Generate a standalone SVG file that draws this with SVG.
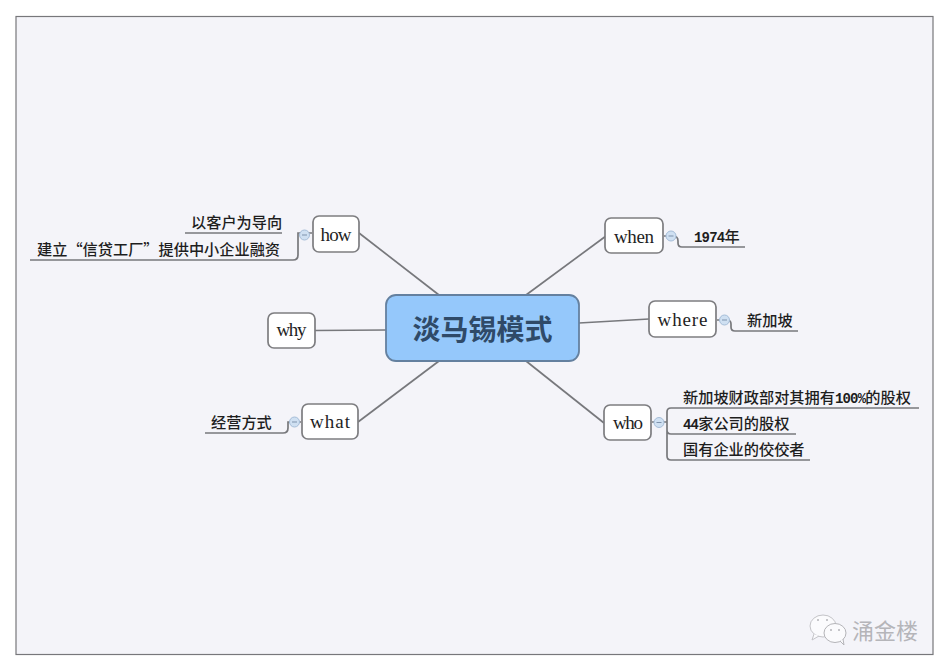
<svg xmlns="http://www.w3.org/2000/svg" width="950" height="671" viewBox="0 0 950 671">
<style>
.node rect{fill:#fff;stroke:#7d7d80;stroke-width:1.7}
.node text{font-family:"Liberation Serif",serif;font-size:19px;fill:#1f1f1f;text-anchor:middle}
.conn path{fill:none;stroke:#77787c;stroke-width:1.7}
.col{fill:#cfe0f2;stroke:#a5bdd8;stroke-width:1}
.dash{stroke:#7f93ad;stroke-width:1}
.leaf text{font-family:"Noto Sans CJK SC","Liberation Sans",sans-serif;font-size:15.2px;font-weight:500;fill:#1e1e1e}
.leaf tspan{font-family:"Liberation Mono","Noto Sans CJK SC",monospace;font-size:14px;font-weight:700;letter-spacing:-0.8px}
.eye{fill:#b5b5b9}
</style>
<rect x="0" y="0" width="950" height="671" fill="#ffffff"/>
<rect x="16" y="16.500" width="917" height="638" fill="#f4f4f9" stroke="#77777b" stroke-width="1.200"/>
<g id="connectors" class="conn">
<path d="M439 295L359 233"/>
<path d="M526 295L606 236"/>
<path d="M579 323L649 319"/>
<path d="M386 330L315 330.500"/>
<path d="M439 361L358 422"/>
<path d="M526 361L604 423"/>
<path d="M282 233H185M312 233H298V255Q298 260 293 260H30"/>
<path d="M664 236H673Q678 236 678 241V243Q678 247 682 247H745"/>
<path d="M717 320H727Q731 320 731 324V327Q731 331 735 331H798"/>
<path d="M301 422H288V428Q288 433 283 433H205"/>
<path d="M652 422H667V412Q667 408 671 408H919M667 422V430Q667 434 671 434H796M667 430V456Q667 460 671 460H810"/>
</g>
<g id="collapse-markers">
<circle class="col" cx="304.500" cy="235" r="5"/><path class="dash" d="M302 235H307"/>
<circle class="col" cx="671" cy="236" r="5"/><path class="dash" d="M668.500 236H673.500"/>
<circle class="col" cx="724.500" cy="320" r="5"/><path class="dash" d="M722 320H727"/>
<circle class="col" cx="294.500" cy="422" r="5"/><path class="dash" d="M292 422H297"/>
<circle class="col" cx="659" cy="422.500" r="5"/><path class="dash" d="M656.500 422.500H661.500"/>
</g>
<g id="center">
<rect x="386" y="295" width="193" height="66" rx="10" fill="#95c8fb" stroke="#64809f" stroke-width="1.800"/>
<text x="482.500" y="340" font-family="'Noto Sans CJK SC',sans-serif" font-size="28" font-weight="700" fill="#2f4a68" text-anchor="middle">淡马锡模式</text>
</g>
<g id="how" class="node"><rect x="313" y="216" width="46" height="36" rx="6"/><text x="336" y="240.500" textLength="31">how</text></g>
<g id="when" class="node"><rect x="605" y="218" width="58" height="35" rx="6"/><text x="634" y="242.500" textLength="40">when</text></g>
<g id="where" class="node"><rect x="649" y="301" width="67" height="36" rx="6"/><text x="682.500" y="326" textLength="50">where</text></g>
<g id="why" class="node"><rect x="268" y="313" width="47" height="35" rx="6"/><text x="291.500" y="336" textLength="30">why</text></g>
<g id="what" class="node"><rect x="302" y="404" width="56" height="35" rx="6"/><text x="330" y="428" textLength="40">what</text></g>
<g id="who" class="node"><rect x="604" y="405" width="47" height="35" rx="6"/><text x="628" y="429" textLength="30">who</text></g>
<g id="leaf-how-1" class="leaf"><text x="191" y="227.500">以客户为导向</text></g>
<g id="leaf-how-2" class="leaf"><text x="37" y="254.500">建立“信贷工厂”提供中小企业融资</text></g>
<g id="leaf-when" class="leaf"><text x="694" y="242"><tspan>1974</tspan>年</text></g>
<g id="leaf-where" class="leaf"><text x="747" y="325.500">新加坡</text></g>
<g id="leaf-what" class="leaf"><text x="211" y="427.500">经营方式</text></g>
<g id="leaf-who-1" class="leaf"><text x="683" y="402.500">新加坡财政部对其拥有<tspan>100%</tspan>的股权</text></g>
<g id="leaf-who-2" class="leaf"><text x="683" y="428.500"><tspan>44</tspan>家公司的股权</text></g>
<g id="leaf-who-3" class="leaf"><text x="683" y="454.500">国有企业的佼佼者</text></g>
<g id="watermark">
<ellipse cx="823" cy="626" rx="13" ry="11" fill="#fbfbfd" stroke="#c4c4c8"/>
<path d="M814 634L812 640L819 636" fill="#fbfbfd" stroke="#c4c4c8"/>
<ellipse cx="835" cy="633" rx="11" ry="9.500" fill="#fbfbfd" stroke="#b4b4b8"/>
<path d="M840 641L844 645L843 639" fill="#fbfbfd" stroke="#b4b4b8"/>
<circle class="eye" cx="818" cy="620" r="1"/><circle class="eye" cx="827" cy="620" r="1"/>
<circle class="eye" cx="831" cy="630" r="1"/><circle class="eye" cx="839" cy="630" r="1"/>
<text x="852" y="639" font-family="'Noto Sans CJK SC',sans-serif" font-size="22" fill="#b5b5b9">涌金楼</text>
</g>
</svg>
